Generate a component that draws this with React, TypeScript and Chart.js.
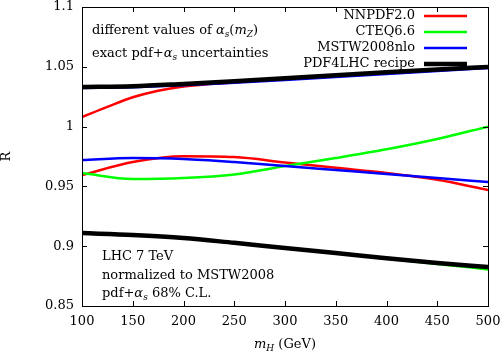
import React, { useEffect, useRef } from "react";
import { Chart, registerables } from "chart.js";

Chart.register(...registerables);

const FONT = "DejaVu Serif";
const FS = 13;

const mH = [100, 150, 200, 250, 300, 350, 400, 450, 500];
const mHFine = [100, 125, 150, 175, 200, 250, 300, 350, 400, 450, 500];

const nnpdfUpper = [1.008, 1.0165, 1.0245, 1.030, 1.0335, 1.037, 1.0398, 1.0425, 1.045, 1.0475, 1.0495];
const nnpdfLower = [0.9595, 0.9704, 0.9752, 0.9745, 0.970, 0.9655, 0.9612, 0.9555, 0.947];
const cteqUpper = [0.9612, 0.9562, 0.957, 0.960, 0.967, 0.9737, 0.981, 0.9896, 1.0];
const cteqLower = [0.9112, 0.9095, 0.907, 0.9027, 0.8984, 0.8941, 0.8896, 0.8852, 0.8806];
const mstwUpper = [1.0322, 1.033, 1.0345, 1.0367, 1.039, 1.0415, 1.044, 1.0465, 1.049];
const mstwLower = [0.972, 0.9737, 0.973, 0.9704, 0.967, 0.9637, 0.9604, 0.957, 0.9537];
const pdf4lhcUpper = [1.0331, 1.0337, 1.0357, 1.038, 1.0405, 1.043, 1.0455, 1.0478, 1.0498];
const pdf4lhcLower = [0.911, 0.9094, 0.9069, 0.9028, 0.8985, 0.8943, 0.89, 0.886, 0.8826];

const seriesNames = ["NNPDF2.0", "CTEQ6.6", "MSTW2008nlo", "PDF4LHC recipe"];
const seriesColors = ["#ff0000", "#00ff00", "#0000ff", "#000000"];
const seriesWidths = [2.5, 2.5, 2.5, 4.5];

const xTicks = [100, 150, 200, 250, 300, 350, 400, 450, 500];
const yTicks = [0.85, 0.9, 0.95, 1, 1.05, 1.1];
const yTickLabels = ["0.85", "0.9", "0.95", "1", "1.05", "1.1"];

type Seg = { t: string; it?: boolean; sub?: boolean };

function drawRich(ctx: CanvasRenderingContext2D, x: number, y: number, segs: Seg[], size: number, align: "left" | "right" | "center" = "left") {
  const fontOf = (s: Seg) => `${s.it ? "italic " : ""}${s.sub ? Math.round(size * 0.72) : size}px "${FONT}"`;
  let total = 0;
  for (const s of segs) {
    ctx.font = fontOf(s);
    total += ctx.measureText(s.t).width;
  }
  let cx = x;
  if (align === "right") cx = x - total;
  if (align === "center") cx = x - total / 2;
  ctx.textAlign = "left";
  ctx.textBaseline = "middle";
  ctx.fillStyle = "#000";
  for (const s of segs) {
    ctx.font = fontOf(s);
    ctx.fillText(s.t, cx, y + (s.sub ? size * 0.3 : 0));
    cx += ctx.measureText(s.t).width;
  }
}

const pairs = (xs: number[], ys: number[]) => xs.map((x, i) => ({ x, y: ys[i] }));

const decorPlugin = {
  id: "decor",
  afterDatasetsDraw(chart: any) {
    const { ctx, chartArea: a, scales } = chart;
    ctx.save();
    ctx.strokeStyle = "#000";
    ctx.lineWidth = 1;
    ctx.strokeRect(Math.round(a.left) + 0.5, Math.round(a.top) + 0.5, Math.round(a.right - a.left), Math.round(a.bottom - a.top));
    const L = 5;
    ctx.beginPath();
    for (const v of xTicks) {
      const px = Math.round(scales.x.getPixelForValue(v)) + 0.5;
      ctx.moveTo(px, a.bottom);
      ctx.lineTo(px, a.bottom - L);
      ctx.moveTo(px, a.top);
      ctx.lineTo(px, a.top + L);
    }
    for (const v of yTicks) {
      const py = Math.round(scales.y.getPixelForValue(v)) + 0.5;
      ctx.moveTo(a.left, py);
      ctx.lineTo(a.left + L, py);
      ctx.moveTo(a.right, py);
      ctx.lineTo(a.right - L, py);
    }
    ctx.stroke();

    // tick labels
    xTicks.forEach((v) => {
      drawRich(ctx, scales.x.getPixelForValue(v), a.bottom + 16, [{ t: String(v) }], FS, "center");
    });
    yTicks.forEach((v, i) => {
      drawRich(ctx, a.left - 8, scales.y.getPixelForValue(v), [{ t: yTickLabels[i] }], FS, "right");
    });
    // y title
    ctx.save();
    ctx.translate(7, (a.top + a.bottom) / 2);
    ctx.rotate(-Math.PI / 2);
    drawRich(ctx, 0, 0, [{ t: "R" }], FS, "center");
    ctx.restore();

    // legend
    const lx = a.left + 333;
    const ly = a.top + 9;
    for (let i = 0; i < seriesNames.length; i++) {
      const y = ly + i * 16;
      drawRich(ctx, lx, y, [{ t: seriesNames[i] }], FS, "right");
      ctx.beginPath();
      ctx.strokeStyle = seriesColors[i];
      ctx.lineWidth = seriesWidths[i];
      ctx.moveTo(lx + 9, y);
      ctx.lineTo(lx + 52, y);
      ctx.stroke();
    }
    // annotations top-left
    drawRich(ctx, a.left + 10, a.top + 24, [
      { t: "different values of " }, { t: "α", it: true }, { t: "s", it: true, sub: true },
      { t: "(" }, { t: "m", it: true }, { t: "Z", it: true, sub: true }, { t: ")" },
    ], FS);
    drawRich(ctx, a.left + 10, a.top + 47, [
      { t: "exact pdf+" }, { t: "α", it: true }, { t: "s", it: true, sub: true }, { t: " uncertainties" },
    ], FS);
    // annotations bottom-left
    drawRich(ctx, a.left + 20, a.top + 250, [{ t: "LHC 7 TeV" }], FS);
    drawRich(ctx, a.left + 20, a.top + 269, [{ t: "normalized to MSTW2008" }], FS);
    drawRich(ctx, a.left + 20, a.top + 287, [
      { t: "pdf+" }, { t: "α", it: true }, { t: "s", it: true, sub: true }, { t: " 68% C.L." },
    ], FS);
    // x title
    drawRich(ctx, 285, 345, [
      { t: "m", it: true }, { t: "H", it: true, sub: true }, { t: " (GeV)" },
    ], FS, "center");
    ctx.restore();
  },
};

export default function App() {
  const ref = useRef<HTMLCanvasElement>(null);
  useEffect(() => {
    if (!ref.current) return;
    const mk = (label: string, xs: number[], ys: number[], idx: number, order: number) => ({
      label,
      data: pairs(xs, ys),
      borderColor: seriesColors[idx],
      backgroundColor: seriesColors[idx],
      borderWidth: seriesWidths[idx],
      pointRadius: 0,
      fill: false,
      cubicInterpolationMode: "monotone" as const,
      order,
    });
    const chart = new Chart(ref.current, {
      type: "line",
      data: {
        datasets: [
          mk(seriesNames[0], mHFine, nnpdfUpper, 0, 3),
          mk(seriesNames[0], mH, nnpdfLower, 0, 3),
          mk(seriesNames[1], mH, cteqUpper, 1, 2),
          mk(seriesNames[1], mH, cteqLower, 1, 2),
          mk(seriesNames[2], mH, mstwUpper, 2, 1),
          mk(seriesNames[2], mH, mstwLower, 2, 1),
          mk(seriesNames[3], mH, pdf4lhcUpper, 3, 0),
          mk(seriesNames[3], mH, pdf4lhcLower, 3, 0),
        ] as any,
      },
      options: {
        animation: false,
        responsive: true,
        maintainAspectRatio: false,
        layout: { padding: { top: 7, right: 13, left: 0, bottom: 0 } },
        plugins: { legend: { display: false }, tooltip: { enabled: false } },
        scales: {
          x: {
            type: "linear",
            min: 100,
            max: 500,
            grid: { display: false },
            border: { display: false },
            ticks: { display: false },
            afterFit: (s: any) => { s.height = 48; },
          },
          y: {
            min: 0.85,
            max: 1.1,
            grid: { display: false },
            border: { display: false },
            ticks: { display: false },
            afterFit: (s: any) => { s.width = 82; },
          },
        },
      },
      plugins: [decorPlugin],
    });
    return () => chart.destroy();
  }, []);
  return (
    <div style={{ position: "absolute", left: 0, top: 0, width: 501, height: 354, background: "#fff" }}>
      <canvas ref={ref} />
    </div>
  );
}
